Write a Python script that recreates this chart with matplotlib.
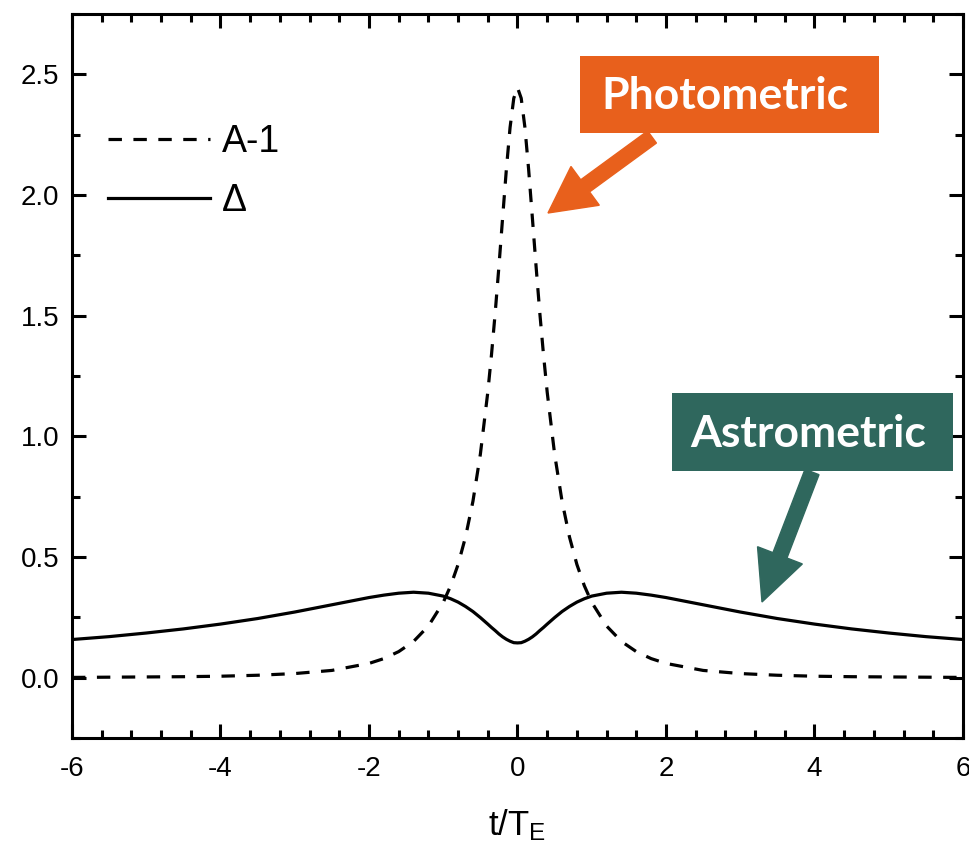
import matplotlib
matplotlib.use("Agg")
import matplotlib.pyplot as plt
from matplotlib.patches import Rectangle, FancyArrow
from matplotlib.ticker import MultipleLocator

plt.rcParams["font.family"] = ["Liberation Sans", "DejaVu Sans"]
plt.rcParams["mathtext.fontset"] = "custom"
plt.rcParams["mathtext.rm"] = "Liberation Sans"
plt.rcParams["mathtext.it"] = "Liberation Sans:italic"
plt.rcParams["axes.unicode_minus"] = False

# values (t / T_E)
t = [-6.0, -5.5, -5.0, -4.5, -4.0, -3.5, -3.0, -2.5, -2.0, -1.8, -1.6, -1.4,
     -1.2, -1.0, -0.9, -0.8, -0.7, -0.6, -0.5, -0.4, -0.35, -0.3, -0.25,
     -0.2, -0.15, -0.1, -0.05, 0.0, 0.05, 0.1, 0.15, 0.2, 0.25, 0.3, 0.35,
     0.4, 0.5, 0.6, 0.7, 0.8, 0.9, 1.0, 1.2, 1.4, 1.6, 1.8, 2.0, 2.5, 3.0,
     3.5, 4.0, 4.5, 5.0, 5.5, 6.0]

# photometric: A - 1
amp = [0.001, 0.002, 0.003, 0.004, 0.006, 0.010, 0.017, 0.030, 0.059, 0.079,
       0.108, 0.150, 0.214, 0.312, 0.381, 0.469, 0.583, 0.731, 0.926, 1.183,
       1.339, 1.513, 1.705, 1.907, 2.106, 2.280, 2.401, 2.445, 2.401, 2.280,
       2.106, 1.907, 1.705, 1.513, 1.339, 1.183, 0.926, 0.731, 0.583, 0.469,
       0.381, 0.312, 0.214, 0.150, 0.108, 0.079, 0.059, 0.030, 0.017, 0.010,
       0.006, 0.004, 0.003, 0.002, 0.001]

# astrometric: centroid shift Delta
delta = [0.158, 0.170, 0.185, 0.202, 0.222, 0.245, 0.272, 0.302, 0.332,
         0.342, 0.350, 0.354, 0.350, 0.338, 0.327, 0.313, 0.295, 0.274,
         0.249, 0.222, 0.208, 0.195, 0.181, 0.169, 0.159, 0.151, 0.145,
         0.144, 0.145, 0.151, 0.159, 0.169, 0.181, 0.195, 0.208, 0.222,
         0.249, 0.274, 0.295, 0.313, 0.327, 0.338, 0.350, 0.354, 0.350,
         0.342, 0.332, 0.302, 0.272, 0.245, 0.222, 0.202, 0.185, 0.170,
         0.158]

fig = plt.figure(figsize=(9.69, 8.44), dpi=100)
ax = fig.add_axes([0.0743, 0.1256, 0.9195, 0.8578])

ax.plot(t, amp, color="black", lw=2.3, linestyle=(0, (4.2, 3.6)), label="A-1")
ax.plot(t, delta, color="black", lw=2.3, label="Δ")

ax.set_xlim(-6, 6)
ax.set_ylim(-0.25, 2.75)
ax.xaxis.set_major_locator(MultipleLocator(2))
ax.xaxis.set_minor_locator(MultipleLocator(0.4))
ax.yaxis.set_major_locator(MultipleLocator(0.5))
ax.yaxis.set_minor_locator(MultipleLocator(0.25))
ax.yaxis.set_major_formatter(lambda v, p: f"{v:.1f}")
ax.xaxis.set_major_formatter(lambda v, p: f"{v:.0f}")

for s in ax.spines.values():
    s.set_linewidth(2.2)
ax.tick_params(which="both", direction="in", top=True, right=True, width=2.2)
ax.tick_params(which="major", length=10, labelsize=20)
ax.tick_params(which="minor", length=6)
ax.tick_params(axis="x", which="major", pad=13)
ax.tick_params(axis="y", which="major", pad=9)

ax.set_xlabel("t/T$_\\mathrm{E}$", fontsize=25, labelpad=18)

ax.legend(loc="upper left", bbox_to_anchor=(0.040, 0.848), frameon=False,
          fontsize=27, handlelength=2.72, handletextpad=0.32,
          labelspacing=0.62, borderpad=0, borderaxespad=0)

# callout boxes (figure pixel coordinates, origin bottom-left)
H = 844
orange = "#E8601C"
teal = "#2F675D"

fig.patches.append(Rectangle((580, H - 133), 299, 77, transform=None,
                             facecolor=orange, edgecolor="none", zorder=5))
fig.text(725 / 969, (H - 96) / H, "Photometric", color="white",
         fontsize=32, fontweight="bold", family="Lato",
         ha="center", va="center", zorder=6)
fig.patches.append(FancyArrow(652, H - 137, 548 - 652, 137 - 213,
                              width=15, head_width=48, head_length=46,
                              length_includes_head=True, transform=None,
                              color=orange, zorder=5))

fig.patches.append(Rectangle((672, H - 471), 281, 78, transform=None,
                             facecolor=teal, edgecolor="none", zorder=5))
fig.text(808 / 969, (H - 434) / H, "Astrometric", color="white",
         fontsize=32, fontweight="bold", family="Lato",
         ha="center", va="center", zorder=6)
fig.patches.append(FancyArrow(812, H - 472, 762 - 812, 472 - 602,
                              width=15, head_width=48, head_length=50,
                              length_includes_head=True, transform=None,
                              color=teal, zorder=5))

fig.savefig("out.png", dpi=100)
